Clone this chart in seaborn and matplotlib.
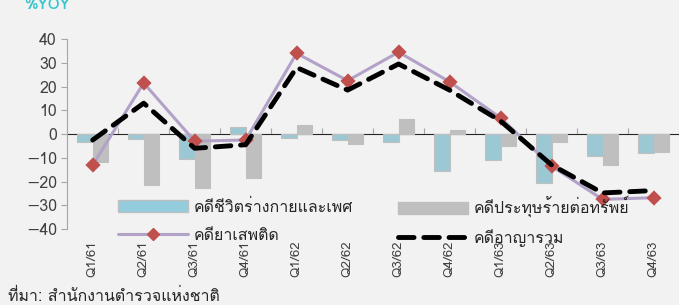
import matplotlib
matplotlib.use('Agg')
import matplotlib.pyplot as plt
from matplotlib import font_manager
from matplotlib.lines import Line2D
from matplotlib.patches import Patch
import seaborn as sns
import pandas as pd

# ข้อมูล (%YOY)
quarters = ['Q1/61', 'Q2/61', 'Q3/61', 'Q4/61', 'Q1/62', 'Q2/62',
            'Q3/62', 'Q4/62', 'Q1/63', 'Q2/63', 'Q3/63', 'Q4/63']
life_body_sex = [-3.5, -2, -10.7, 3, -1.7, -2.5, -3.5, -15.5, -11, -20.5, -9.2, -7.8]
property_crime = [-11.7, -21.6, -22.6, -18.6, 4, -4.2, 6.5, 1.8, -5, -3.5, -12.9, -7.4]
drugs = [-13, 21.5, -3, -2.5, 34, 22.5, 34.5, 22, 6.8, -13.5, -27.5, -26.8]
total = [-2.5, 13, -6, -4.5, 28, 18.5, 29.5, 18.5, 5.5, -13, -24.8, -23.8]

lbl_life = 'คดีชีวิตร่างกายและเพศ'
lbl_prop = 'คดีประทุษร้ายต่อทรัพย์'
lbl_drug = 'คดียาเสพติด'
lbl_total = 'คดีอาญารวม'

sns.set_style('white')

# หาฟอนต์ที่มีอักษรไทย
thai_fonts = []
for f in font_manager.fontManager.ttflist:
    try:
        ft = font_manager.get_font(f.fname)
        if 0x0E04 in ft.get_charmap() and f.name not in thai_fonts:
            thai_fonts.append(f.name)
    except Exception:
        pass
plt.rcParams['font.family'] = thai_fonts[:1] + ['DejaVu Sans']

df = pd.DataFrame({
    'quarter': quarters * 2,
    'value': life_body_sex + property_crime,
    'type': [lbl_life] * 12 + [lbl_prop] * 12,
})

blue = '#93CDDD'
gray = '#BFBFBF'
purple = '#B3A2C7'
red = '#C0504D'
bg = '#F2F2F2'

fig = plt.figure(figsize=(6.79, 3.05), dpi=100, facecolor=bg)
ax = fig.add_axes([0.099, 0.249, 0.901, 0.623])
ax.set_facecolor(bg)

sns.barplot(data=df, x='quarter', y='value', hue='type', order=quarters,
            palette=[blue, gray], width=0.6, edgecolor=gray, linewidth=0.8,
            ax=ax, legend=False, errorbar=None)
sns.pointplot(x=quarters, y=drugs, color=purple, markers='D', markersize=6,
              linewidth=2.2, errorbar=None, ax=ax,
              markerfacecolor=red, markeredgecolor=red)
sns.pointplot(x=quarters, y=total, color='black', markers='', linestyles='--',
              linewidth=3.5, errorbar=None, ax=ax)
for ln in ax.lines[-1:]:
    ln.set_dashes((3.2, 2))
    ln.set_dash_capstyle('round')

ax.set_ylim(-40, 40)
ax.set_xlim(-0.5, 11.5)
ax.set_yticks(range(-40, 41, 10))
ax.tick_params(axis='y', labelsize=11.5, colors='#404040', length=4,
               color='#A6A6A6', direction='out', left=True)
ax.tick_params(axis='x', labelsize=9.5, colors='#404040', rotation=90,
               length=0, pad=8)
ax.set_xlabel('')
ax.set_ylabel('')
for s in ['top', 'right', 'bottom']:
    ax.spines[s].set_visible(False)
ax.spines['left'].set_color('#A6A6A6')

# แกน x ที่ระดับศูนย์
sec = ax.secondary_xaxis(0.5)
sec.set_xticks([i + 0.5 for i in range(-1, 12)])
sec.set_xticklabels([])
sec.tick_params(axis='x', length=4, color='#A6A6A6')
sec.spines['bottom'].set_color('#A6A6A6')

h_life = Patch(facecolor=blue, edgecolor=gray, label=lbl_life)
h_drug = Line2D([], [], color=purple, lw=2.2, marker='D', markersize=6,
                markerfacecolor=red, markeredgecolor=red, label=lbl_drug)
h_prop = Patch(facecolor=gray, edgecolor=gray, label=lbl_prop)
h_total = Line2D([], [], color='black', lw=3.5, ls=(0, (3.2, 2)),
                 dash_capstyle='round', label=lbl_total)

leg_kw = dict(loc='center left', frameon=False, fontsize=11.5,
              handlelength=4.4, handleheight=0.8, handletextpad=0.375,
              labelspacing=0.75, labelcolor='#262626')
leg1 = ax.legend(handles=[h_life, h_drug], bbox_to_anchor=(0.059, 0.039), **leg_kw)
ax.add_artist(leg1)
ax.legend(handles=[h_prop, h_total], bbox_to_anchor=(0.517, 0.039), **leg_kw)

fig.text(0.035, 0.985, '%YOY', color='#33C6CC', fontsize=11,
         fontweight='bold', va='center', ha='left')
fig.text(0.012, 0.025, 'ที่มา: สำนักงานตำรวจแห่งชาติ', fontsize=11.5,
         color='#262626', va='center', ha='left')

fig.savefig('out.png', dpi=100, facecolor=bg)
